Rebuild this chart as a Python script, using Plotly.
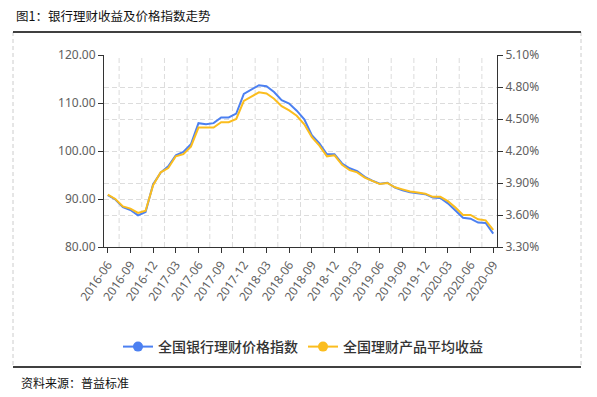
import plotly.graph_objects as go

months = [f"{y}-{m:02d}" for y in range(2016, 2021) for m in range(1, 13)]
months = months[months.index("2016-06"):months.index("2020-09") + 1]

price_index = [90.8, 89.9, 88.3, 87.7, 86.6, 87.3, 93.1, 95.5, 96.8, 99.1,
               99.8, 101.4, 105.8, 105.6, 105.8, 107.0, 107.0, 107.8, 111.9, 112.8,
               113.7, 113.5, 112.3, 110.6, 109.9, 108.4, 106.6, 103.3, 101.6, 99.3,
               99.3, 97.4, 96.4, 95.8, 94.6, 93.8, 93.2, 93.4, 92.4, 91.8,
               91.4, 91.2, 91.0, 90.3, 90.2, 89.1, 87.7, 86.1, 85.9, 85.1,
               85.0, 82.8]
avg_yield = [3.79, 3.75, 3.68, 3.66, 3.62, 3.64, 3.88, 4.00, 4.04, 4.15,
             4.17, 4.24, 4.42, 4.42, 4.42, 4.47, 4.47, 4.50, 4.67, 4.71,
             4.75, 4.74, 4.69, 4.62, 4.58, 4.53, 4.45, 4.33, 4.25, 4.15,
             4.16, 4.07, 4.02, 4.00, 3.95, 3.92, 3.89, 3.90, 3.86, 3.84,
             3.82, 3.81, 3.80, 3.77, 3.77, 3.73, 3.67, 3.60, 3.60, 3.56,
             3.55, 3.46]

left_ticks = [80, 90, 100, 110, 120]
right_ticks = [3.30, 3.60, 3.90, 4.20, 4.50, 4.80, 5.10]

name_price = "全国银行理财价格指数"
name_yield = "全国理财产品平均收益"
title_text = "图1：银行理财收益及价格指数走势"
source_text = "资料来源：普益标准"

BLUE = "#4c80f1"
YELLOW = "#fbbd1e"

W, H = 597, 397
L, R, T, B = 104, 100, 55, 150
PW, PH = W - L - R, H - T - B


def px(x):
    return (x - L) / PW


def py(y):
    return (H - B - y) / PH


fig = go.Figure()
fig.add_trace(go.Scatter(x=months, y=price_index, mode="lines", name=name_price,
                         line=dict(color=BLUE, width=2), showlegend=False))
fig.add_trace(go.Scatter(x=months, y=avg_yield, mode="lines", name=name_yield,
                         line=dict(color=YELLOW, width=2), yaxis="y2", showlegend=False))
# legend entries
fig.add_trace(go.Scatter(x=[None], y=[None], mode="lines+markers", name=name_price,
                         line=dict(color=BLUE, width=2), marker=dict(size=10, color=BLUE)))
fig.add_trace(go.Scatter(x=[None], y=[None], mode="lines+markers", name=name_yield,
                         line=dict(color=YELLOW, width=2), marker=dict(size=10, color=YELLOW),
                         yaxis="y2"))

shapes = []
# vertical dashed grid lines between label groups
for k in range(len(months) // 3):
    xv = 1.5 + 3 * k
    if xv < len(months) - 1:
        shapes.append(dict(type="line", xref="x", yref="paper", x0=xv, x1=xv, y0=0, y1=1,
                           line=dict(color="#dcdcdc", width=1, dash="5px,3px"), layer="below"))
# outer frame
shapes.append(dict(type="line", xref="paper", yref="paper", x0=px(13), x1=px(13), y0=py(32), y1=py(367),
                   line=dict(color="#cccccc", width=1, dash="4px,3px")))
shapes.append(dict(type="line", xref="paper", yref="paper", x0=px(581), x1=px(581), y0=py(32), y1=py(367),
                   line=dict(color="#cccccc", width=1, dash="4px,3px")))
shapes.append(dict(type="line", xref="paper", yref="paper", x0=px(13), x1=px(581), y0=py(32), y1=py(32),
                   line=dict(color="#000000", width=1.5)))
shapes.append(dict(type="line", xref="paper", yref="paper", x0=px(13), x1=px(581), y0=py(367), y1=py(367),
                   line=dict(color="#000000", width=1.5)))

tickfont = dict(family="Noto Sans, Open Sans, sans-serif", size=12, color="#606060")

fig.update_layout(
    width=W, height=H,
    margin=dict(l=L, r=R, t=T, b=B, pad=0),
    paper_bgcolor="white", plot_bgcolor="white",
    shapes=shapes,
    xaxis=dict(type="category", categoryorder="array", categoryarray=months,
               range=[-0.5, len(months) - 0.5],
               tickvals=months[::3], ticktext=months[::3], tickangle=-55,
               showgrid=False, showline=True, linecolor="#333333", linewidth=1,
               ticks="outside", ticklen=5, tickcolor="#333333", tickfont=tickfont,
               zeroline=False),
    yaxis=dict(range=[left_ticks[0], left_ticks[-1]], tickvals=left_ticks,
               ticktext=[f"{v:.2f}" for v in left_ticks],
               showgrid=True, gridcolor="#dcdcdc", griddash="5px,3px", gridwidth=1,
               showline=True, linecolor="#333333", linewidth=1,
               ticks="outside", ticklen=5, tickcolor="#333333", tickfont=tickfont,
               zeroline=False),
    yaxis2=dict(range=[right_ticks[0], right_ticks[-1]], tickvals=right_ticks,
                ticktext=[f"{v:.2f}%" for v in right_ticks],
                overlaying="y", side="right",
                showgrid=True, gridcolor="#dcdcdc", griddash="5px,3px", gridwidth=1,
                showline=True, linecolor="#333333", linewidth=1,
                ticks="outside", ticklen=5, tickcolor="#333333", tickfont=tickfont,
                zeroline=False),
    legend=dict(orientation="h", x=px(303), xanchor="center", y=py(347), yanchor="middle",
                font=dict(family="Noto Sans CJK SC, sans-serif", size=14, color="#333333",
                          weight=500),
                bgcolor="rgba(0,0,0,0)", itemwidth=30),
    annotations=[
        dict(text=title_text, xref="paper", yref="paper", x=px(14), y=py(15),
             xanchor="left", yanchor="middle", showarrow=False,
             font=dict(family="Noto Sans CJK SC, sans-serif", size=12.5, color="#111111")),
        dict(text=source_text, xref="paper", yref="paper", x=px(19), y=py(382),
             xanchor="left", yanchor="middle", showarrow=False,
             font=dict(family="Noto Sans CJK SC, sans-serif", size=12, color="#111111")),
    ],
)

fig.write_html("out.html", config={"displayModeBar": False},
               post_script="document.body.style.margin='0';")
